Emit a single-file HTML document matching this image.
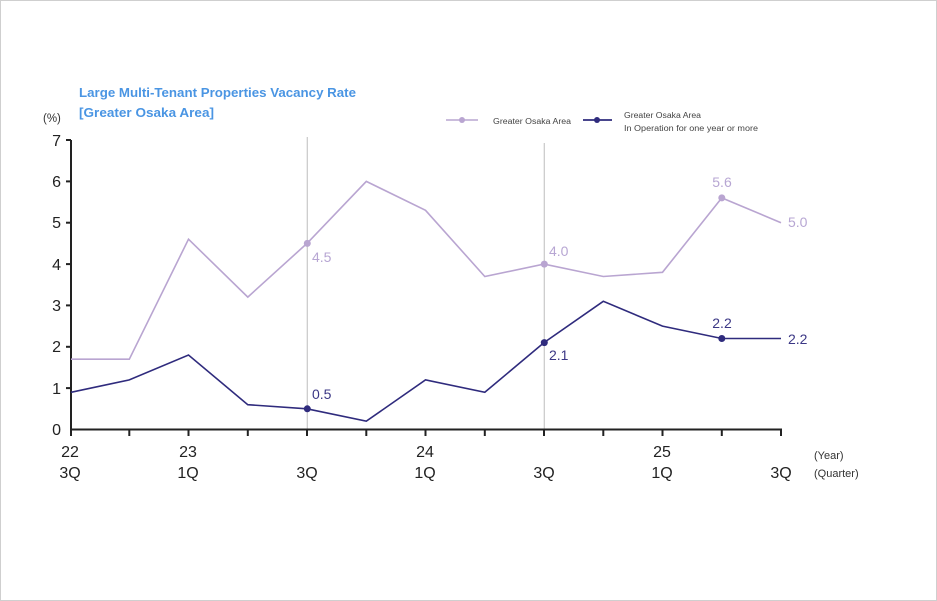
<!DOCTYPE html>
<html><head><meta charset="utf-8"><style>
html,body{margin:0;padding:0;background:#fff;}
svg{display:block;}
text{font-family:"Liberation Sans",sans-serif;}
</style></head><body>
<svg width="937" height="601" viewBox="0 0 937 601" xmlns="http://www.w3.org/2000/svg">
<rect x="0.5" y="0.5" width="936" height="600" fill="#fff" stroke="#cfcfcf" stroke-width="1"/>
<!-- title -->
<text x="79" y="97" font-size="13" font-weight="bold" fill="#4a95e3" textLength="277" lengthAdjust="spacingAndGlyphs">Large Multi-Tenant Properties Vacancy Rate</text>
<text x="79" y="117" font-size="13" font-weight="bold" fill="#4a95e3" textLength="135" lengthAdjust="spacingAndGlyphs">[Greater Osaka Area]</text>
<text x="43" y="122" font-size="11.5" fill="#333">(%)</text>
<!-- legend -->
<line x1="446" y1="120" x2="478" y2="120" stroke="#b9a5d1" stroke-width="1.5"/>
<circle cx="462" cy="120" r="3" fill="#b9a5d1"/>
<text x="493" y="124" font-size="8" fill="#444" textLength="78" lengthAdjust="spacingAndGlyphs">Greater Osaka Area</text>
<line x1="583" y1="120" x2="612" y2="120" stroke="#2f2b7d" stroke-width="1.8"/>
<circle cx="597" cy="120" r="3" fill="#2f2b7d"/>
<text x="624" y="118" font-size="8" fill="#444" textLength="77" lengthAdjust="spacingAndGlyphs">Greater Osaka Area</text>
<text x="624" y="131" font-size="8" fill="#444" textLength="134" lengthAdjust="spacingAndGlyphs">In Operation for one year or more</text>
<!-- vertical guides -->
<line x1="307.3" y1="137" x2="307.3" y2="430" stroke="#c8c8c8" stroke-width="1.2"/>
<line x1="544.3" y1="143" x2="544.3" y2="430" stroke="#c8c8c8" stroke-width="1.2"/>
<!-- axes -->
<g stroke="#222" stroke-width="2" fill="none">
<line x1="71" y1="140" x2="71" y2="430"/>
<line x1="70" y1="429.5" x2="782" y2="429.5"/>
<line x1="66" y1="140" x2="71" y2="140"/>
<line x1="66" y1="181.4" x2="71" y2="181.4"/>
<line x1="66" y1="222.7" x2="71" y2="222.7"/>
<line x1="66" y1="264.1" x2="71" y2="264.1"/>
<line x1="66" y1="305.4" x2="71" y2="305.4"/>
<line x1="66" y1="346.8" x2="71" y2="346.8"/>
<line x1="66" y1="388.1" x2="71" y2="388.1"/>
<line x1="71" y1="429" x2="71" y2="436"/>
<line x1="129.3" y1="429" x2="129.3" y2="436"/>
<line x1="188.5" y1="429" x2="188.5" y2="436"/>
<line x1="247.8" y1="429" x2="247.8" y2="436"/>
<line x1="307" y1="429" x2="307" y2="436"/>
<line x1="366.3" y1="429" x2="366.3" y2="436"/>
<line x1="425.5" y1="429" x2="425.5" y2="436"/>
<line x1="484.8" y1="429" x2="484.8" y2="436"/>
<line x1="544" y1="429" x2="544" y2="436"/>
<line x1="603.3" y1="429" x2="603.3" y2="436"/>
<line x1="662.5" y1="429" x2="662.5" y2="436"/>
<line x1="721.8" y1="429" x2="721.8" y2="436"/>
<line x1="781" y1="429" x2="781" y2="436"/>
</g>
<!-- y labels -->
<g font-size="16" fill="#222" text-anchor="end">
<text x="61" y="146">7</text>
<text x="61" y="187">6</text>
<text x="61" y="228">5</text>
<text x="61" y="270">4</text>
<text x="61" y="311">3</text>
<text x="61" y="352">2</text>
<text x="61" y="394">1</text>
<text x="61" y="435">0</text>
</g>
<!-- x labels -->
<g font-size="16" fill="#222" text-anchor="middle">
<text x="70" y="457">22</text><text x="70" y="478">3Q</text>
<text x="188" y="457">23</text><text x="188" y="478">1Q</text>
<text x="307" y="478">3Q</text>
<text x="425" y="457">24</text><text x="425" y="478">1Q</text>
<text x="544" y="478">3Q</text>
<text x="662" y="457">25</text><text x="662" y="478">1Q</text>
<text x="781" y="478">3Q</text>
</g>
<text x="814" y="459" font-size="11" fill="#333">(Year)</text>
<text x="814" y="477" font-size="11" fill="#333">(Quarter)</text>
<!-- light series -->
<polyline fill="none" stroke="#b9a5d1" stroke-width="1.6" stroke-linejoin="miter"
points="71,359.2 129.3,359.2 188.5,239.2 247.8,297.1 307,243.4 366.3,181.4 425.5,210.3 484.8,276.5 544,264.1 603.3,276.5 662.5,272.3 721.8,197.9 781,222.7"/>
<circle cx="307.3" cy="243.4" r="3.5" fill="#b9a5d1"/>
<circle cx="544.3" cy="264.1" r="3.5" fill="#b9a5d1"/>
<circle cx="721.8" cy="197.9" r="3.5" fill="#b9a5d1"/>
<!-- dark series -->
<polyline fill="none" stroke="#2f2b7d" stroke-width="1.6" stroke-linejoin="miter"
points="71,392.3 129.3,379.9 188.5,355 247.8,404.7 307,408.8 366.3,421.2 425.5,379.9 484.8,392.3 544,342.6 603.3,301.3 662.5,326.1 721.8,338.5 781,338.5"/>
<circle cx="307.3" cy="408.8" r="3.5" fill="#2f2b7d"/>
<circle cx="544.3" cy="342.6" r="3.5" fill="#2f2b7d"/>
<circle cx="721.8" cy="338.5" r="3.5" fill="#2f2b7d"/>
<!-- data labels -->
<g font-size="14" fill="#b7a6d3">
<text x="312" y="262">4.5</text>
<text x="549" y="256">4.0</text>
<text x="722" y="187" text-anchor="middle">5.6</text>
<text x="788" y="227">5.0</text>
</g>
<g font-size="14" fill="#3b3785">
<text x="312" y="399">0.5</text>
<text x="549" y="360">2.1</text>
<text x="722" y="328" text-anchor="middle">2.2</text>
<text x="788" y="344">2.2</text>
</g>
</svg>
</body></html>
